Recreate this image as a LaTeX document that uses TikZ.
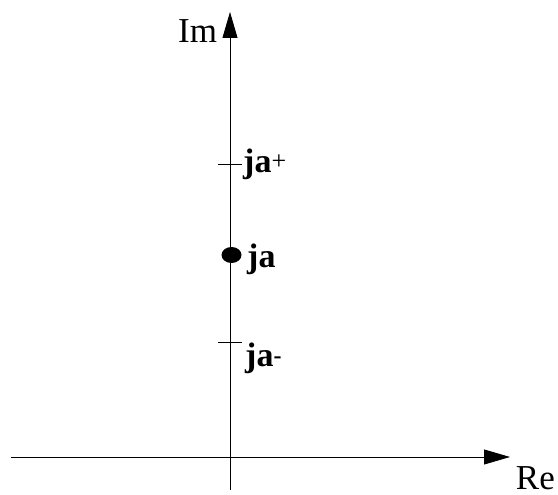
\documentclass[tikz,border=0pt]{standalone}
\usepackage{fontspec}
\setmainfont{Liberation Serif}
\usetikzlibrary{arrows.meta,shapes.geometric}
\begin{document}
\begin{tikzpicture}[x=1pt,y=1pt,
  axis/.style={line width=0.8pt,-{Triangle[length=26pt,width=15pt]}},
  tick/.style={line width=0.8pt},
  lbl/.style={inner sep=0pt,anchor=base west,font=\fontsize{34}{34}\selectfont\bfseries},
  axlbl/.style={inner sep=0pt,font=\fontsize{35}{35}\selectfont},
  pole/.style={ellipse,fill=black,draw=none,minimum width=20pt,minimum height=16pt,inner sep=0pt}]
\useasboundingbox (0,0) rectangle (558,495);
% axes
\coordinate (vb) at (230,5);
\coordinate (vt) at (230,483);
\coordinate (hl) at (11,38);
\coordinate (hr) at (510,38);
\draw[axis] (hl) -- (hr);
\draw[axis] (vb) -- (vt);
% ticks
\coordinate (tpl) at (218,331); \coordinate (tpr) at (242,331);
\coordinate (tml) at (218,153); \coordinate (tmr) at (242,153);
\draw[tick] (tpl) -- (tpr);
\draw[tick] (tml) -- (tmr);
% pole
\node[pole] (dot) at (231.5,240) {};
% labels
\node[lbl] (jap) at (243,322) {ja\raisebox{3pt}{\fontsize{26}{26}\selectfont\mdseries +}};
\node[lbl] (ja) at (247,227) {ja};
\node[lbl] (jam) at (245,128) {ja\raisebox{3pt}{\fontsize{24}{24}\selectfont -}};
\node[axlbl,anchor=base west] (im) at (178,452) {Im};
\node[axlbl,anchor=base east] (re) at (555,5) {Re};
\end{tikzpicture}
\end{document}
